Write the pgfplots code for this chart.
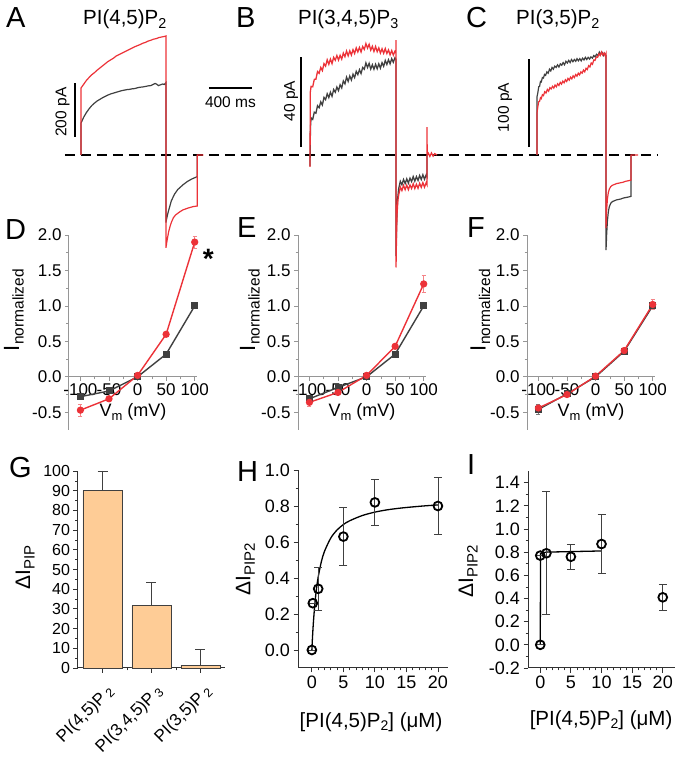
\documentclass[border=0pt]{standalone}
\usepackage{fontspec}
\setmainfont{Liberation Sans}
\usepackage{pgfplots}
\pgfplotsset{compat=1.18}

\definecolor{tred}{RGB}{236,50,56}
\definecolor{tgray}{RGB}{64,64,64}
\definecolor{barfill}{RGB}{254,204,150}
\definecolor{axgray}{RGB}{150,150,150}
\definecolor{axdark}{RGB}{50,50,50}
\newcommand{\fs}[1]{\fontsize{#1}{#1}\selectfont}

\pgfplotsset{
  trace/.style={scale only axis, hide axis, clip=false, anchor=south west,
    width=145.125pt, xmin=-150, xmax=1200},
  sbar/.style={black, line width=1.6pt},
  iv/.style={scale only axis, width=128pt, height=195pt, anchor=south west, clip=false,
    xmin=-120, xmax=104, ymin=-0.75, ymax=2,
    axis y line=left, axis x line=middle,
    hide obscured x ticks=false, hide obscured y ticks=false,
    axis line style={-, draw=axgray, line width=1pt},
    major tick style={axgray, line width=0.8pt}, minor tick style={axgray, line width=0.6pt},
    tick align=outside, major tick length=4pt, minor tick length=2.5pt,
    xtick={-100,-50,0,50,100}, minor x tick num=1,
    ytick={-0.5,0,0.5,1,1.5,2}, minor y tick num=1,
    tick label style={font=\fs{17}, /pgf/number format/assume math mode=true},
    xticklabel style={inner sep=1pt, yshift=-2pt},
    yticklabel style={/pgf/number format/.cd, fixed, fixed zerofill, precision=1},
    ylabel={I\raisebox{-4.5pt}{\fs{15.5}normalized}},
    xlabel={V\raisebox{-3.5pt}{\fs{13}m} (mV)},
    xlabel style={font=\fs{18}, anchor=center, at={(axis cs:-8,-0.5)}},
  },
  ivgray/.style={tgray, line width=1.4pt, mark=square*, mark size=2.8pt,
    error bars/.cd, y dir=both, y explicit, error bar style={tgray!70, line width=0.6pt},
    error mark options={rotate=90, tgray!70, mark size=2pt}},
  ivred/.style={tred, line width=1.4pt, mark=*, mark size=2.9pt,
    error bars/.cd, y dir=both, y explicit, error bar style={tred!60, line width=0.6pt},
    error mark options={rotate=90, tred!60, mark size=2pt}},
  dose/.style={scale only axis, height=198pt, anchor=south west, clip=false,
    axis x line*=bottom, axis y line*=left,
    axis line style={-, draw=axdark, line width=1pt},
    major tick style={axdark, line width=0.8pt}, minor tick style={axdark, line width=0.6pt},
    tick align=outside, major tick length=4.5pt, minor tick length=2.5pt,
    tick label style={font=\fs{18}, /pgf/number format/assume math mode=true},
    xtick={0,5,10,15,20}, minor x tick num=4, minor y tick num=1,
    yticklabel style={/pgf/number format/.cd, fixed, fixed zerofill, precision=1},
    ylabel={ΔI\raisebox{-4.5pt}{\fs{15}PIP2}},
    xlabel={[PI(4,5)P\raisebox{-3.5pt}{\fs{14}2}] (μM)},
    xlabel style={font=\fs{20.5}, anchor=center},
    ylabel style={font=\fs{21}, anchor=center},
  },
  circ/.style={only marks, mark=o, mark size=4.4pt, mark options={black, line width=1.8pt, fill=white},
    error bars/.cd, y dir=both, y explicit, error bar style={tgray, line width=0.8pt},
    error mark options={rotate=90, tgray, mark size=4pt, line width=0.8pt}},
}

\begin{document}
\begin{tikzpicture}
\useasboundingbox (0,0) rectangle (677pt,757pt);

% ---------- A : PI(4,5)P2 traces (ms, pA) ----------
\begin{axis}[trace, at={(64.875pt,494pt)}, height=243pt, ymin=-400, ymax=500]
\addplot[black, line width=2.2pt, dash pattern=on 10pt off 6pt] coordinates {(-149,0) (5367,0)};
\addplot[tgray, line width=1.2pt] coordinates {
(0,0) (0,118) (25,140) (50,157) (75,171) (100,183) (125,192) (150,200) (175,206) (200,212)
(225,217) (250,222) (275,226) (300,229) (325,232) (350,235) (375,238) (400,240) (425,242)
(450,243) (475,245) (500,246) (525,249) (550,251) (575,252) (600,254) (625,256) (650,257)
(670,261) (690,265) (705,262) (720,257) (740,260) (760,263) (775,261) (790,268)
(790,-250) (800,-230) (812,-210) (840,-170) (870,-145) (900,-128) (950,-110) (990,-98)
(1030,-89) (1082,-80) (1082,0)};
\addplot[tred, line width=1.2pt] coordinates {
(0,0) (0,248) (25,262) (50,276) (75,287) (100,297) (125,305) (150,314) (175,322) (200,330)
(225,338) (250,346) (275,352) (300,358) (325,366) (350,371) (375,376) (400,381) (425,386)
(450,391) (475,396) (500,401) (525,405) (550,409) (575,414) (600,417) (625,422) (650,425)
(675,429) (700,431) (725,435) (750,437) (775,439) (790,441)
(790,-344) (800,-318) (815,-285) (830,-262) (843,-247) (860,-232) (880,-222) (900,-216)
(921,-210) (950,-203) (1000,-196) (1045,-191) (1082,-189) (1082,0) (1138,0)};
% scale bars
\addplot[sbar] coordinates {(-56,67) (-56,267)};
\addplot[sbar, line width=1.4pt] coordinates {(1190,248) (1590,248)};
\node[font=\fs{15.5}, rotate=90] at (axis cs:-172,159) {200 pA};
\node[font=\fs{15.5}] at (axis cs:1390,196) {400 ms};
\end{axis}

% ---------- B : PI(3,4,5)P3 traces ----------
\begin{axis}[trace, at={(293.875pt,467pt)}, height=270pt, ymin=-60, ymax=60]
\addplot[tgray, line width=1.3pt] coordinates {
(0,0) (0,-5) (4,12) (10,16.5) (25,15.8) (40,19.0) (55,18.6) (70,21.9) (85,21.0) (100,23.6)
(115,22.2) (130,25.6) (145,24.6) (160,27.2) (175,25.5) (190,27.9) (205,26.1) (220,29.1)
(235,27.9) (250,30.2) (265,28.6) (280,31.2) (295,29.8) (310,32.9) (325,31.6) (340,34.6)
(355,32.7) (370,35.1) (385,33.3) (400,35.9) (415,34.4) (430,37.2) (445,35.7) (460,37.9)
(475,36.2) (490,38.9) (505,38.1) (520,40.9) (535,38.9) (550,40.7) (565,38.2) (580,40.1)
(595,38.1) (610,40.3) (625,38.3) (640,40.5) (655,38.6) (670,41.0) (685,39.4) (700,42.0)
(715,40.2) (730,42.3) (745,40.5) (760,42.8) (775,41.2) (790,43.2) (800,42.5)
(800,-45) (806,-30) (814,-20) (825,-15) (840,-11.7) (855,-13.2) (870,-10.9) (885,-12.7)
(900,-10.6) (915,-12.5) (930,-10.3) (945,-11.8) (960,-9.6) (975,-11.6) (990,-9.6)
(1005,-11.3) (1020,-9.1) (1035,-10.9) (1050,-8.8) (1065,-10.8) (1080,-8.9) (1088,-9.6) (1088,0)};
\addplot[tred, line width=1.3pt] coordinates {
(0,0) (0,-5.3) (3,28) (10,30.5) (25,30.3) (40,33.6) (55,33.7) (70,37.1) (85,36.3) (100,38.9)
(115,37.5) (130,40.6) (145,39.5) (160,42.3) (175,40.3) (190,42.6) (205,40.6) (220,43.4)
(235,42.1) (250,44.2) (265,42.2) (280,44.3) (295,42.6) (310,45.3) (325,43.7) (340,46.2)
(355,44.1) (370,46.3) (385,44.4) (400,46.8) (415,45.1) (430,47.6) (445,45.8) (460,47.8)
(475,45.8) (490,48.2) (505,46.9) (520,49.5) (535,47.5) (550,49.2) (565,46.6) (580,48.3)
(595,46.0) (610,48.2) (625,45.9) (640,47.6) (655,45.3) (670,47.2) (685,45.2) (700,47.3)
(715,45.1) (730,46.7) (745,44.5) (760,46.4) (775,44.4) (790,46.1) (800,45.3)
(800,51) (800,-50) (805,-35) (810,-26) (818,-20) (826,-17.5) (834,-15.8) (840,-14.2)
(855,-15.8) (870,-13.5) (885,-15.4) (900,-13.4) (915,-15.4) (930,-13.3) (945,-14.9)
(960,-12.8) (975,-14.9) (990,-13.0) (1005,-14.8) (1020,-12.6) (1035,-14.4) (1050,-12.3)
(1065,-14.3) (1080,-12.4) (1088,-13.2) (1088,12.4) (1090,0) (1100,0.8) (1115,-0.6)
(1130,0.9) (1145,-0.5) (1160,0.6) (1181,0)};
\addplot[sbar] coordinates {(-84,3.6) (-84,43.6)};
\node[font=\fs{15.5}, rotate=90] at (axis cs:-177,24) {40 pA};
\end{axis}

% ---------- C : PI(3,5)P2 traces ----------
\begin{axis}[trace, at={(520.875pt,487.6pt)}, height=228.8pt, ymin=-130, ymax=130]
\addplot[tgray, line width=1.2pt] coordinates {
(0,0) (0,66) (8,71) (16,77.5) (24,78) (32,83.5) (40,83) (50,88) (60,87.5) (70,91.5) (80,90.5)
(92,94.5) (104,93) (116,97.5) (128,95.5) (140,99.5) (152,97.5) (165,101) (178,99.5)
(191,102.5) (204,100) (217,103.5) (230,102) (243,105) (256,102.5) (269,106.5) (282,104.5)
(295,107.5) (308,105) (321,108.5) (334,106) (347,108.5) (360,106.5) (372,109.5) (385,107)
(398,109.5) (411,107) (424,110) (437,108) (450,111) (463,108.5) (476,111) (489,109)
(502,111.5) (515,110) (528,113) (541,111.5) (554,114.5) (567,113) (580,117) (593,114.5)
(606,116.5) (619,113) (630,115.5) (642,113)
(642,-108) (648,-90) (655,-75) (663,-65) (672,-59) (685,-55) (700,-53) (720,-52) (740,-51)
(760,-50.5) (780,-50) (800,-49) (820,-48.5) (840,-48) (860,-47.5) (874,-47) (874,0)};
\addplot[tred, line width=1.2pt] coordinates {
(0,0) (0,47.7) (8,55) (16,60.5) (24,61) (32,65) (40,64) (50,68.5) (60,67.5) (72,72) (84,70.5)
(96,74.5) (108,72.5) (120,76.5) (132,75) (144,78) (156,76) (168,79.5) (180,77.5) (192,81)
(204,79) (216,82.5) (228,80.5) (240,84) (252,82) (264,85.5) (276,83.5) (288,87) (300,85)
(312,88.5) (324,86.5) (336,90) (348,88) (360,91.5) (372,89.5) (384,93) (396,91) (408,94.5)
(420,93) (432,96.5) (444,94.5) (456,98.5) (468,97) (480,101.5) (492,100) (504,104.5)
(516,103) (528,108) (540,107.5) (552,111.5) (564,111) (576,115) (588,113) (600,117)
(612,113.5) (624,116) (635,112.5) (642,115)
(642,-83) (648,-62) (655,-50) (663,-43) (672,-39) (685,-36) (700,-34.5) (720,-33.5)
(740,-32.5) (760,-32) (780,-31.5) (800,-31) (820,-30) (840,-29.5) (860,-29) (874,-28.5)
(874,0) (940,0)};
\addplot[sbar] coordinates {(-74,9) (-74,109)};
\node[font=\fs{15.5}, rotate=90] at (axis cs:-298,54) {100 pA};
\end{axis}

% ---------- D ----------
\begin{axis}[iv, at={(69pt,327pt)},
  ylabel style={font=\fs{22}, anchor=center, at={(axis description cs:-0.43,0.615)}}]
\addplot[ivgray] coordinates {(-100,-0.28) (-50,-0.20) (0,0) (50,0.32) (100,1.0)};
\addplot[ivred] coordinates {(-100,-0.47) +- (0,0.08) (-50,-0.31) +- (0,0.03) (0,0.02) +- (0,0.01)
  (50,0.60) +- (0,0.03) (100,1.90) +- (0,0.09)};
\node[font=\fs{28}\bfseries] at (axis cs:124,1.66) {*};
\end{axis}

% ---------- E ----------
\begin{axis}[iv, at={(298pt,327pt)},
  ylabel style={font=\fs{22}, anchor=center, at={(axis description cs:-0.375,0.615)}}]
\addplot[ivgray] coordinates {(-100,-0.31) (-50,-0.15) (0,0) (50,0.32) (100,1.0)};
\addplot[ivred] coordinates {(-100,-0.36) +- (0,0.05) (-50,-0.22) +- (0,0.03) (0,0.02) +- (0,0.01)
  (50,0.43) +- (0,0.03) (100,1.31) +- (0,0.12)};
\end{axis}

% ---------- F ----------
\begin{axis}[iv, at={(527pt,327pt)},
  ylabel style={font=\fs{22}, anchor=center, at={(axis description cs:-0.365,0.615)}}]
\addplot[ivgray] coordinates {(-100,-0.46) +- (0,0.07) (-50,-0.24) +- (0,0.02) (0,0) +- (0,0.01)
  (50,0.36) +- (0,0.02) (100,1.0) +- (0,0.03)};
\addplot[ivred] coordinates {(-100,-0.44) +- (0,0.03) (-50,-0.25) +- (0,0.02) (0,0.01) +- (0,0.01)
  (50,0.37) +- (0,0.02) (100,1.02) +- (0,0.07)};
\end{axis}

% ---------- G ----------
\begin{axis}[scale only axis, width=147pt, height=197pt, at={(78pt,89pt)}, anchor=south west,
  clip=false, xmin=-0.5, xmax=2.5, ymin=0, ymax=100,
  axis x line*=bottom, axis y line*=left,
  axis line style={-, draw=axdark, line width=1pt},
  major tick style={axdark, line width=0.8pt}, minor tick style={axdark, line width=0.6pt},
  tick align=outside, major tick length=4.5pt, minor tick length=2.5pt,
  ybar, bar width=39pt,
  xtick={0,1,2}, minor x tick num=1,
  xticklabels={{PI(4,5)P\,\raisebox{-2pt}{\fs{12.5}2}}, {PI(3,4,5)P\,\raisebox{-2pt}{\fs{12.5}3}}, {PI(3,5)P\,\raisebox{-2pt}{\fs{12.5}2}}},
  xticklabel style={font=\fs{17}, xshift=11pt, yshift=-14pt, rotate=45, anchor=east},
  ytick={0,10,20,30,40,50,60,70,80,90,100}, minor y tick num=1,
  yticklabel style={font=\fs{16}, /pgf/number format/assume math mode=true},
  ylabel={ΔI\raisebox{-4.5pt}{\fs{15}PIP}},
  ylabel style={font=\fs{21}, anchor=center, at={(axis description cs:-0.36,0.51)}}]
\addplot[fill=barfill, draw=tgray, line width=0.9pt,
  error bars/.cd, y dir=plus, y explicit, error bar style={tgray, line width=0.9pt},
  error mark options={rotate=90, tgray, mark size=5pt, line width=0.9pt}]
  coordinates {(0,90) +- (0,10) (1,31.5) +- (0,12) (2,1.5) +- (0,7.8)};
\end{axis}

% ---------- H ----------
\begin{axis}[dose, width=150pt, at={(298pt,89pt)}, xmin=-2.2, xmax=21.6, ymin=-0.1, ymax=1.0,
  ytick={0,0.2,0.4,0.6,0.8,1.0},
  ylabel style={at={(axis description cs:-0.35,0.5)}},
  xlabel style={at={(axis description cs:0.487,-0.273)}}]
\addplot[black, line width=1.3pt, smooth] coordinates {
(0,0) (0.1,0.071) (0.25,0.157) (0.5,0.266) (0.75,0.345) (1,0.405) (1.5,0.490) (2,0.548)
(3,0.622) (4,0.667) (5,0.697) (6,0.718) (8,0.747) (10,0.766) (12,0.779) (14,0.788)
(16,0.795) (18,0.801) (20,0.806)};
\addplot[circ] coordinates {(0,0) +- (0,0) (0.15,0.26) +- (0,0) (1,0.34) +- (0,0.12)
  (5,0.63) +- (0,0.16) (10,0.82) +- (0,0.13) (20,0.80) +- (0,0.16)};
\end{axis}

% ---------- I ----------
\begin{axis}[dose, width=147pt, height=197pt, at={(528pt,89pt)}, xmin=-2, xmax=22, ymin=-0.2, ymax=1.5,
  ytick={-0.2,0,0.2,0.4,0.6,0.8,1.0,1.2,1.4},
  ylabel style={at={(axis description cs:-0.408,0.49)}},
  xlabel style={at={(axis description cs:0.497,-0.264)}}]
\addplot[black, line width=1.3pt] coordinates {(0,0) (0.05,0.79) (1,0.80) (10,0.81)};
\addplot[circ] coordinates {(0,0) +- (0,0) (0,0.77) +- (0,0) (1,0.79) +- (0,0.53)
  (5,0.76) +- (0,0.11) (10,0.87) +- (0,0.255) (20,0.41) +- (0,0.11)};
\end{axis}

% ---------- titles and panel letters ----------
\node[font=\fs{20.5}, anchor=base, inner sep=0] at (125pt,732pt) {PI(4,5)P\textsubscript{2}};
\node[font=\fs{20.5}, anchor=base, inner sep=0] at (348.5pt,732pt) {PI(3,4,5)P\textsubscript{3}};
\node[font=\fs{20.5}, anchor=base, inner sep=0] at (558pt,732pt) {PI(3,5)P\textsubscript{2}};
\begin{scope}[every node/.style={font=\fs{29}, anchor=base west, inner sep=0}]
\node at (6pt,729pt) {A};
\node at (236pt,729pt) {B};
\node at (466pt,729pt) {C};
\node at (5pt,517pt) {D};
\node at (237pt,519pt) {E};
\node at (467pt,519pt) {F};
\node at (9pt,279pt) {G};
\node at (237pt,275pt) {H};
\node at (467pt,282pt) {I};
\end{scope}
\end{tikzpicture}
\end{document}
